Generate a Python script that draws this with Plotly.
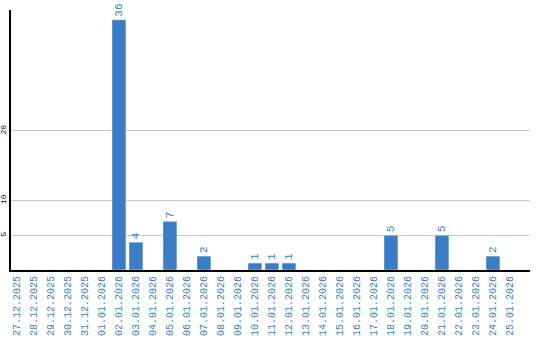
import plotly.graph_objects as go

dates = ["27.12.2025", "28.12.2025", "29.12.2025", "30.12.2025", "31.12.2025",
         "01.01.2026", "02.01.2026", "03.01.2026", "04.01.2026", "05.01.2026",
         "06.01.2026", "07.01.2026", "08.01.2026", "09.01.2026", "10.01.2026",
         "11.01.2026", "12.01.2026", "13.01.2026", "14.01.2026", "15.01.2026",
         "16.01.2026", "17.01.2026", "18.01.2026", "19.01.2026", "20.01.2026",
         "21.01.2026", "22.01.2026", "23.01.2026", "24.01.2026", "25.01.2026"]
values = [0, 0, 0, 0, 0, 0, 36, 4, 0, 7, 0, 2, 0, 0, 1, 1, 1, 0, 0, 0, 0, 0, 5, 0, 0, 5, 0, 0, 2, 0]
y_ticks = [5, 10, 20]

blue = "#3b7dc4"
labels = [str(v) if v > 0 else "" for v in values]

fig = go.Figure(go.Bar(
    x=list(range(len(dates))), y=values, marker_color=blue, width=0.82,
    text=labels, textposition="outside", textangle=-90,
    textfont=dict(color=blue, size=11, family="Liberation Mono"),
    cliponaxis=False, hoverinfo="skip",
))
fig.update_layout(
    width=540, height=340, margin=dict(l=11, r=10, t=10, b=70),
    paper_bgcolor="white", plot_bgcolor="white", showlegend=False,
    uniformtext=dict(mode=False),
)
fig.update_xaxes(
    tickmode="array", tickvals=list(range(len(dates))), ticktext=dates,
    tickangle=-90, tickfont=dict(color=blue, size=10, family="Liberation Mono"),
    range=[-0.35, 30.18], showline=True, linecolor="black", linewidth=2,
    showgrid=False, ticks="", zeroline=False, automargin=False,
    ticklabelstandoff=0,
)
fig.update_yaxes(
    tickmode="array", tickvals=y_ticks, ticktext=[str(t) for t in y_ticks],
    tickangle=-90, tickfont=dict(color="black", size=8, family="Liberation Mono"),
    range=[0, 37.4], showline=True, linecolor="black", linewidth=2,
    showgrid=True, gridcolor="#c8c8c8", gridwidth=1, ticks="", zeroline=False,
    ticklabelstandoff=0, automargin=False,
)
fig.write_html("out.html")
